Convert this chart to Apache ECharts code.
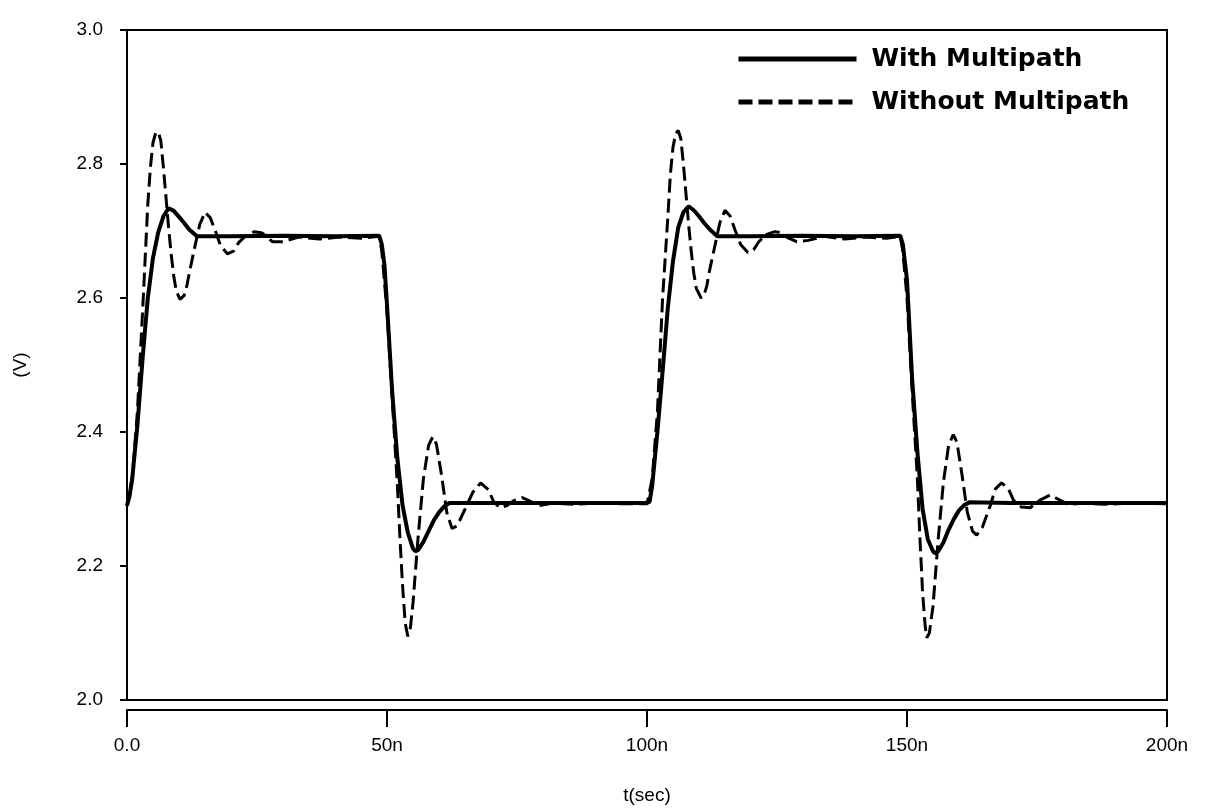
<!DOCTYPE html>
<html>
<head>
<meta charset="utf-8">
<script src="https://cdn.jsdelivr.net/npm/echarts@6/dist/echarts.min.js"></script>
<style>html,body{margin:0;padding:0;background:#fff}#c{width:1212px;height:812px}</style>
</head>
<body>
<div id="c"></div>
<script>
// time in ns, voltage in V
var withMultipath = [
  [0,2.29],[0.5,2.305],[1,2.33],[1.5,2.37],[2,2.41],[3,2.51],[4,2.60],[5,2.66],[6,2.698],[7,2.722],[8,2.734],[8.3,2.736],
  [9,2.73],[10,2.721],[11,2.712],[12,2.702],[13.5,2.692],[20,2.692],[30,2.693],[40,2.692],[48.5,2.693],
  [49,2.68],[49.5,2.65],[50,2.59],[51,2.46],[52,2.36],[53,2.29],[54,2.25],[55,2.226],[55.5,2.222],[56,2.224],
  [57,2.236],[58,2.252],[59,2.268],[60,2.28],[61,2.289],[62,2.294],[70,2.294],[80,2.294],[90,2.294],[100,2.294],
  [100.5,2.296],[101,2.32],[102,2.40],[103,2.49],[104,2.585],[105,2.655],[106,2.705],[107,2.728],[108,2.737],
  [109,2.731],[110,2.722],[111,2.712],[112,2.703],[113.5,2.692],[120,2.692],[130,2.693],[140,2.692],[148.7,2.693],
  [149.2,2.68],[150,2.627],[151,2.478],[152,2.37],[153,2.285],[154,2.24],[155,2.222],[155.4,2.219],[156,2.222],
  [157,2.235],[158,2.254],[159,2.27],[160,2.283],[161,2.291],[162,2.295],[170,2.294],[180,2.294],[190,2.294],[200,2.294]
];
var withoutMultipath = [
  [0,2.29],[1,2.33],[2,2.43],[3,2.58],[3.5,2.66],[4,2.74],[4.5,2.795],[5,2.832],[5.5,2.846],[6,2.848],[6.5,2.835],
  [7,2.795],[7.5,2.75],[8,2.705],[8.5,2.665],[9,2.632],[9.5,2.61],[10.2,2.598],[11,2.604],[11.5,2.618],[12,2.638],
  [13,2.675],[14,2.71],[15,2.728],[16,2.72],[17,2.70],[18,2.678],[19.3,2.666],[20.5,2.67],[21.5,2.683],[23,2.694],
  [24.5,2.699],[26,2.697],[27,2.69],[28,2.684],[30,2.684],[33,2.691],[37,2.688],[41,2.691],[45,2.689],[48.5,2.692],
  [49,2.67],[50,2.58],[51,2.45],[52,2.32],[52.5,2.24],[53,2.17],[53.5,2.115],[54,2.095],[54.5,2.108],[55,2.145],
  [56,2.245],[57,2.33],[58,2.38],[58.8,2.393],[59.5,2.382],[60.5,2.335],[61.5,2.28],[62.5,2.256],[63.5,2.26],
  [65,2.285],[66.5,2.31],[68,2.324],[69.5,2.314],[70.5,2.296],[71.7,2.287],[73,2.29],[74.5,2.298],[76,2.302],
  [77.5,2.297],[79,2.29],[82,2.294],[86,2.292],[90,2.294],[95,2.293],[100,2.293],
  [101,2.33],[102,2.43],[103,2.6],[103.5,2.66],[104,2.72],[104.5,2.785],[105,2.825],[105.5,2.845],[106,2.85],
  [106.5,2.838],[107,2.8],[107.5,2.755],[108,2.71],[108.5,2.67],[109,2.637],[109.5,2.614],[110.4,2.6],[111,2.605],
  [111.5,2.618],[112,2.64],[113,2.676],[114,2.712],[115,2.731],[116,2.722],[117,2.70],[118,2.68],[119.4,2.668],
  [120.5,2.672],[121.5,2.684],[123,2.695],[124.6,2.699],[126,2.697],[127,2.69],[128.8,2.684],[131,2.686],[134,2.692],
  [138,2.688],[142,2.691],[146,2.689],[148.7,2.692],
  [149.2,2.67],[150,2.6],[151,2.46],[152,2.33],[152.5,2.24],[153,2.16],[153.5,2.11],[153.8,2.093],[154.3,2.1],
  [155,2.14],[156,2.24],[157,2.325],[158,2.38],[158.9,2.396],[159.6,2.385],[160.6,2.335],[161.6,2.28],[162.6,2.252],
  [163.4,2.246],[164.5,2.258],[166,2.29],[167,2.315],[168.2,2.324],[169.5,2.315],[170.5,2.298],[172,2.288],
  [173.7,2.287],[175.5,2.298],[177.5,2.306],[179,2.3],[181,2.292],[184,2.294],[188,2.292],[193,2.294],[200,2.293]
];
var seriesNames = ['With Multipath', 'Without Multipath'];
var xTicks = [0, 50, 100, 150, 200];
var yTicks = [2.0, 2.2, 2.4, 2.6, 2.8, 3.0];

var FONT = '"Liberation Sans", Arial, sans-serif';
var chart = echarts.init(document.getElementById('c'), null, {renderer: 'canvas'});
chart.setOption({
  animation: false,
  backgroundColor: '#fff',
  grid: {left: 127, right: 45, top: 30, bottom: 112, show: true, borderColor: '#000', borderWidth: 2, backgroundColor: 'transparent'},
  legend: {
    orient: 'vertical', left: 731, top: 41, itemWidth: 118, itemHeight: 14, itemGap: 17,
    itemStyle: {opacity: 0},
    lineStyle: {width: 5},
    textStyle: {fontFamily: '"DejaVu Sans", sans-serif', fontSize: 25, lineHeight: 26, fontWeight: 'bold', color: '#000', padding: [0, 0, 0, 10]},
    data: seriesNames
  },
  xAxis: {
    type: 'value', min: xTicks[0], max: xTicks[xTicks.length - 1], interval: 50, offset: 10,
    name: 't(sec)', nameLocation: 'middle', nameGap: 76,
    nameTextStyle: {fontFamily: FONT, fontSize: 19, color: '#000'},
    axisLine: {show: true, lineStyle: {color: '#000', width: 2}},
    axisTick: {show: true, length: 17, lineStyle: {color: '#000', width: 2}},
    axisLabel: {fontFamily: FONT, fontSize: 19, color: '#000', margin: 26,
      formatter: function (v) { return v === 0 ? '0.0' : v + 'n'; }},
    splitLine: {show: false}
  },
  yAxis: {
    type: 'value', min: yTicks[0], max: yTicks[yTicks.length - 1], interval: 0.2, offset: 7,
    name: '(V)', nameLocation: 'middle', nameGap: 90, nameRotate: 90,
    nameTextStyle: {fontFamily: FONT, fontSize: 19, color: '#000'},
    axisLine: {show: true, lineStyle: {color: '#000', width: 2}},
    axisTick: {show: true, length: 7, lineStyle: {color: '#000', width: 2}},
    axisLabel: {fontFamily: FONT, fontSize: 19, color: '#000', margin: 17,
      formatter: function (v) { return v.toFixed(1); }},
    splitLine: {show: false}
  },
  series: [
    {name: seriesNames[0], type: 'line', data: withMultipath, symbol: 'none', smooth: false,
      lineStyle: {color: '#000', width: 4, type: 'solid'}, itemStyle: {color: '#000'}, z: 3},
    {name: seriesNames[1], type: 'line', data: withoutMultipath, symbol: 'none', smooth: false,
      lineStyle: {color: '#000', width: 3, type: [14, 6]}, itemStyle: {color: '#000'}, z: 2}
  ]
});
</script>
</body>
</html>
